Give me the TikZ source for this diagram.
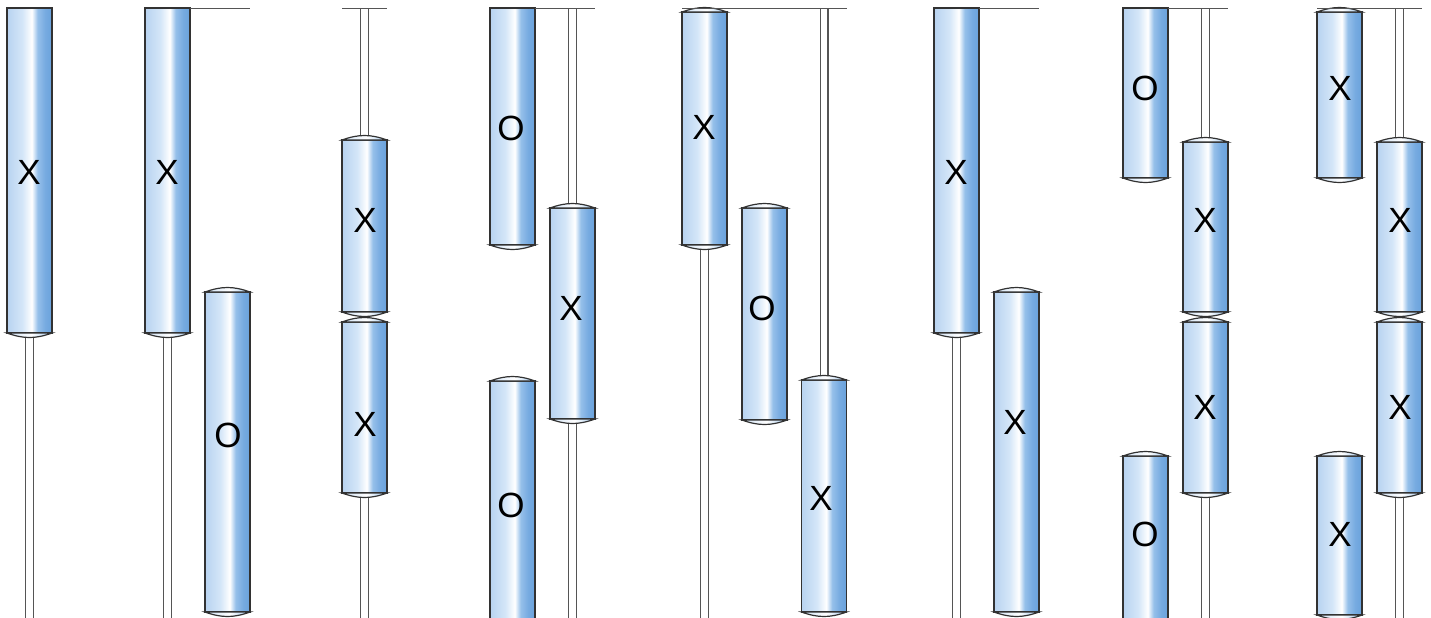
\documentclass[tikz,border=0pt]{standalone}
\usepackage{fontspec}
\newfontfamily\lblfont{Liberation Sans}
\usetikzlibrary{positioning}

\definecolor{cylA}{RGB}{184,211,240}
\definecolor{cylB}{RGB}{212,230,248}
\definecolor{cylC}{RGB}{150,192,234}
\definecolor{cylD}{RGB}{118,170,224}
\definecolor{cylE}{RGB}{106,162,220}
\definecolor{capA}{RGB}{206,225,245}
\definecolor{capD}{RGB}{160,198,236}
\definecolor{cylline}{RGB}{50,50,50}
\definecolor{rodline}{RGB}{85,85,85}

\pgfdeclarehorizontalshading{cylshade}{100bp}{color(0bp)=(cylA); color(25bp)=(cylA); color(42bp)=(cylB); color(52.5bp)=(white); color(59bp)=(cylC); color(67.5bp)=(cylD); color(75bp)=(cylE); color(100bp)=(cylE)}
\pgfdeclarehorizontalshading{capshade}{100bp}{color(0bp)=(capA); color(25bp)=(capA); color(52.5bp)=(white); color(75bp)=(capD); color(100bp)=(capD)}

\tikzset{
  cyl/.style={shade, shading=cylshade, draw=cylline, line width=0.6pt, anchor=north,
    minimum width=22.5pt, inner sep=0pt, outer sep=0pt},
  endcap/.style={shade, shading=capshade, draw=cylline, line width=0.6pt},
  rod/.style={draw=rodline, line width=0.65pt, double=white, double distance=3.2pt},
  ceil/.style={draw=rodline, line width=0.5pt},
  letter/.style={font=\lblfont\fontsize{17.5}{20}\selectfont, inner sep=0pt, text=black},
}

\begin{document}
\begin{tikzpicture}[x=0.5pt, y=-0.5pt]
    \useasboundingbox (0,0) rectangle (1431,617);
    \clip (0,0) rectangle (1431,617);
    \coordinate (top) at (0,8);
    \coordinate (ground) at (0,630);

    % cylinders
    \node [cyl, minimum height=162.5pt] (a1) at (29.5,8) {};
    \node [cyl, minimum height=162.5pt] (b1) at (167.5,8) {};
      \node [cyl, minimum height=160pt] (b2) at (227.5,292) {};
    \node [cyl, minimum height=86pt] (c1) at (364.5,140) {};
      \node [cyl, minimum height=85.5pt, below=5pt of c1] (c2) {};
    \node [cyl, minimum height=118.5pt] (d1) at (512.5,8) {};
      \node [cyl, minimum height=105.5pt] (d2) at (572.5,208) {};
      \node [cyl, minimum height=129.5pt] (d3) at (512.5,381) {};
    \node [cyl, minimum height=116.5pt] (e1) at (704.5,12) {};
      \node [cyl, minimum height=106pt] (e2) at (764.5,208) {};
      \node [cyl, minimum height=116pt] (e3) at (824,380) {};
    \node [cyl, minimum height=162.5pt] (f1) at (956.5,8) {};
      \node [cyl, minimum height=160pt] (f2) at (1016.5,292) {};
    \node [cyl, minimum height=85pt] (g1) at (1145.5,8) {};
      \node [cyl, minimum height=85pt] (g2) at (1205.5,142) {};
      \node [cyl, minimum height=85.5pt, below=5pt of g2] (g3) {};
      \node [cyl, minimum height=92pt] (g4) at (1145.5,456) {};
    \node [cyl, minimum height=83pt] (h1) at (1339.5,12) {};
      \node [cyl, minimum height=85pt] (h2) at (1399.5,142) {};
      \node [cyl, minimum height=85.5pt, below=5pt of h2] (h3) {};
      \node [cyl, minimum height=79.5pt] (h4) at (1339.5,456) {};

    % rods
    \draw [rod] (a1.south) -- (a1.south |- ground);
    \draw [rod] (b1.south) -- (b1.south |- ground);
    \draw [rod] (c1.north |- top) -- (c1.north);
      \draw [rod] (c2.south) -- (c2.south |- ground);
    \draw [rod] (d2.north |- top) -- (d2.north);
      \draw [rod] (d2.south) -- (d2.south |- ground);
    \draw [rod] (e1.south) -- (e1.south |- ground);
      \draw [rod] (e3.north |- top) -- (e3.north);
    \draw [rod] (f1.south) -- (f1.south |- ground);
    \draw [rod] (g2.north |- top) -- (g2.north);
      \draw [rod] (g3.south) -- (g3.south |- ground);
    \draw [rod] (h2.north |- top) -- (h2.north);
      \draw [rod] (h3.south) -- (h3.south |- ground);

    % caps
    \draw [endcap] (a1.south west) to [bend right=20] (a1.south east) -- cycle;
    \draw [endcap] (b1.south west) to [bend right=20] (b1.south east) -- cycle;
      \draw [endcap] (b2.north west) to [bend left=20] (b2.north east) -- cycle;
      \draw [endcap] (b2.south west) to [bend right=20] (b2.south east) -- cycle;
    \draw [endcap] (c1.north west) to [bend left=20] (c1.north east) -- cycle;
      \draw [endcap] (c1.south west) to [bend right=20] (c1.south east) -- cycle;
      \draw [endcap] (c2.north west) to [bend left=20] (c2.north east) -- cycle;
      \draw [endcap] (c2.south west) to [bend right=20] (c2.south east) -- cycle;
    \draw [endcap] (d1.south west) to [bend right=20] (d1.south east) -- cycle;
      \draw [endcap] (d2.north west) to [bend left=20] (d2.north east) -- cycle;
      \draw [endcap] (d2.south west) to [bend right=20] (d2.south east) -- cycle;
      \draw [endcap] (d3.north west) to [bend left=20] (d3.north east) -- cycle;
    \draw [endcap] (e1.north west) to [bend left=20] (e1.north east) -- cycle;
      \draw [endcap] (e1.south west) to [bend right=20] (e1.south east) -- cycle;
      \draw [endcap] (e2.north west) to [bend left=20] (e2.north east) -- cycle;
      \draw [endcap] (e2.south west) to [bend right=20] (e2.south east) -- cycle;
      \draw [endcap] (e3.north west) to [bend left=20] (e3.north east) -- cycle;
      \draw [endcap] (e3.south west) to [bend right=20] (e3.south east) -- cycle;
    \draw [endcap] (f1.south west) to [bend right=20] (f1.south east) -- cycle;
      \draw [endcap] (f2.north west) to [bend left=20] (f2.north east) -- cycle;
      \draw [endcap] (f2.south west) to [bend right=20] (f2.south east) -- cycle;
    \draw [endcap] (g1.south west) to [bend right=20] (g1.south east) -- cycle;
      \draw [endcap] (g2.north west) to [bend left=20] (g2.north east) -- cycle;
      \draw [endcap] (g2.south west) to [bend right=20] (g2.south east) -- cycle;
      \draw [endcap] (g3.north west) to [bend left=20] (g3.north east) -- cycle;
      \draw [endcap] (g3.south west) to [bend right=20] (g3.south east) -- cycle;
      \draw [endcap] (g4.north west) to [bend left=20] (g4.north east) -- cycle;
    \draw [endcap] (h1.north west) to [bend left=20] (h1.north east) -- cycle;
      \draw [endcap] (h1.south west) to [bend right=20] (h1.south east) -- cycle;
      \draw [endcap] (h2.north west) to [bend left=20] (h2.north east) -- cycle;
      \draw [endcap] (h2.south west) to [bend right=20] (h2.south east) -- cycle;
      \draw [endcap] (h3.north west) to [bend left=20] (h3.north east) -- cycle;
      \draw [endcap] (h3.south west) to [bend right=20] (h3.south east) -- cycle;
      \draw [endcap] (h4.north west) to [bend left=20] (h4.north east) -- cycle;
      \draw [endcap] (h4.south west) to [bend right=20] (h4.south east) -- cycle;

    % ceilings
    \draw [ceil] (b1.north east) -- (b2.north east |- top);
    \draw [ceil] (c1.north west |- top) -- (c1.north east |- top);
    \draw [ceil] (d1.north east) -- (d2.north east |- top);
    \draw [ceil] (e1.north west |- top) -- (e3.north east |- top);
    \draw [ceil] (f1.north east) -- (f2.north east |- top);
    \draw [ceil] (g1.north east) -- (g2.north east |- top);
    \draw [ceil] (h1.north west |- top) -- (h2.north east |- top);

    % letters
    \node [letter] (a1l) at (29,172) {X};
    \node [letter] (b1l) at (167,172) {X};
      \node [letter] (b2l) at (228,435) {O};
    \node [letter] (c1l) at (365,220) {X};
      \node [letter] (c2l) at (365,424) {X};
    \node [letter] (d1l) at (511,128) {O};
      \node [letter] (d2l) at (571,308) {X};
      \node [letter] (d3l) at (511,505) {O};
    \node [letter] (e1l) at (704,127) {X};
      \node [letter] (e2l) at (762,308) {O};
      \node [letter] (e3l) at (821,498) {X};
    \node [letter] (f1l) at (956,172) {X};
      \node [letter] (f2l) at (1015,422) {X};
    \node [letter] (g1l) at (1145,88) {O};
      \node [letter] (g2l) at (1205,220) {X};
      \node [letter] (g3l) at (1205,407) {X};
      \node [letter] (g4l) at (1145,534) {O};
    \node [letter] (h1l) at (1340,88) {X};
      \node [letter] (h2l) at (1400,220) {X};
      \node [letter] (h3l) at (1400,407) {X};
      \node [letter] (h4l) at (1340,534) {X};
\end{tikzpicture}
\end{document}
